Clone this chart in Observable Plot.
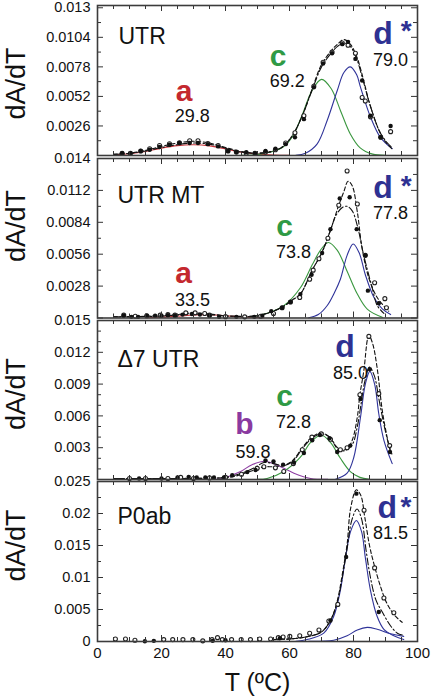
<!DOCTYPE html>
<html><head><meta charset="utf-8">
<script src="https://cdn.jsdelivr.net/npm/d3@7"></script>
<script src="https://cdn.jsdelivr.net/npm/@observablehq/plot@0.6"></script>
<style>
body{margin:0;background:#fff;}
#chart{position:relative;width:432px;height:699px;overflow:hidden;background:#fff;font-family:"Liberation Sans",Arial,sans-serif;}
#chart svg{position:absolute;left:0;overflow:visible;background:transparent;}
</style></head><body><div id="chart"></div>
<script>
// ---------- DATA (T in °C, dA/dT) ----------
const xTicks = [0, 20, 40, 60, 80, 100];
const panelNames = ["UTR", "UTR MT", "\u03947 UTR", "P0ab"];
const yTicks1 = [0.0026, 0.0052, 0.0078, 0.0104, 0.013];
const yTicks2 = [0.0028, 0.0056, 0.0084, 0.0112, 0.014];
const yTicks3 = [0.003, 0.006, 0.009, 0.012, 0.015];
const yTicks4 = [0, 0.005, 0.01, 0.015, 0.02, 0.025];

// Panel 1 : UTR
const p1Filled = [[7.7,0.0002],[10.3,0.0002],[13.5,0.0004],[16.3,0.0005],[19.4,0.00075],[22.5,0.00095],[25.6,0.0011],[28.8,0.0011],[31.4,0.0011],[34.5,0.001],[37.7,0.0008],[40.8,0.0004],[43.4,0.0003],[46.5,0.0003],[49.2,0.0002],[52.5,0.0004],[55.6,0.0006],[58.8,0.001],[61.7,0.0016],[64.5,0.0032],[67.6,0.006],[70.5,0.0081],[73.3,0.009],[76.5,0.0098],[78.3,0.01],[80.6,0.0085],[82.7,0.0066],[85.3,0.0035],[88.5,0.0016],[91.6,0.0026]];
const p1Open = [[7.7,0.0002],[10.3,0.0002],[13.5,0.0004],[16.3,0.0006],[19.4,0.00088],[22.5,0.00103],[25.6,0.00112],[28.8,0.0013],[31.4,0.0013],[34.5,0.00105],[37.7,0.00088],[40.8,0.0004],[43.4,0.0003],[46.5,0.0002],[49.2,0.0002],[52.5,0.0003],[55.6,0.0005],[58.8,0.0011],[61.7,0.002],[64.5,0.0035],[67.6,0.0061],[70.5,0.0082],[73.3,0.0091],[76.5,0.0099],[78.3,0.0097],[80.6,0.009],[82.7,0.0051],[83.7,0.0048],[85.3,0.0034],[88.5,0.0016],[91.6,0.0021]];
const p1Dash = [[5,0.0001],[10,0.0002],[15,0.00045],[20,0.0008],[25,0.0011],[30,0.00125],[35,0.0011],[40,0.0007],[45,0.00035],[50,0.0002],[55,0.0004],[58,0.0008],[61,0.0018],[64,0.0035],[67,0.0058],[70,0.008],[73,0.0092],[75,0.0098],[77,0.0102],[79,0.0098],[81,0.0087],[83,0.0068],[85,0.0046],[88,0.0022],[90,0.0012],[92,0.0006]];
const p1DashDot = [[5,0.0001],[10,0.00018],[15,0.0004],[20,0.0007],[25,0.00095],[30,0.0011],[35,0.001],[40,0.00065],[45,0.0003],[50,0.0002],[55,0.0004],[58,0.0008],[61,0.0018],[64,0.0035],[67,0.0057],[70,0.0078],[73,0.009],[75,0.0096],[77,0.0099],[79,0.0096],[81,0.0085],[83,0.0066],[85,0.0046],[88,0.0022],[90,0.0013],[92,0.0007]];
const p1CompA = [[5,0.00005],[10,0.00015],[15,0.00035],[20,0.00065],[25,0.00087],[30,0.00094],[35,0.00085],[40,0.00058],[45,0.0003],[50,0.00012],[55,0.00004],[60,0.00001]];
const p1CompC = [[45,0.00002],[50,0.00008],[54,0.0003],[58,0.00075],[61,0.0017],[64,0.0036],[67,0.0057],[70,0.0067],[73,0.0059],[76,0.0039],[79,0.0019],[82,0.0007],[86,0.00012],[90,0.00002]];
const p1CompD = [[62,0.00002],[65,0.0002],[68.6,0.001],[71.8,0.0031],[74.9,0.0057],[77,0.0073],[79,0.0078],[81,0.0071],[82.2,0.006],[85.3,0.0034],[88.4,0.0016],[92.1,0.0006]];

// Panel 2 : UTR MT
const p2Filled = [[8.2,0.0002],[10.6,0.0001],[12.7,0.0001],[15.4,0.0002],[18,0.0002],[20,0.0002],[22,0.00025],[24.2,0.0002],[26.6,0.0003],[29.5,0.00035],[32,0.0003],[35,0.0002],[38,0.0001],[43.4,0.0001],[49,0.0001],[51.5,0.0002],[54.3,0.0006],[57.7,0.0009],[60.3,0.0014],[63.4,0.0021],[66.9,0.0038],[70.2,0.0057],[72.8,0.0078],[75.7,0.0105],[78.8,0.0106],[81,0.0078],[83.7,0.0055],[84.5,0.0024],[87.9,0.0013]];
const p2Open = [[8.2,0.00025],[11.8,0.00015],[15.4,0.0002],[19.6,0.00025],[22,0.0003],[24.2,0.00025],[27.6,0.00045],[30.5,0.00045],[33.5,0.0004],[35,0.00025],[40,0.00012],[46,0.0001],[51,0.00015],[55,0.0004],[57.7,0.0009],[60.3,0.0014],[63.2,0.0018],[66.3,0.0034],[67.4,0.0042],[69.2,0.0052],[72,0.007],[75.4,0.0099],[78,0.0129],[81.2,0.01],[83.7,0.0055],[86.6,0.0031],[89.8,0.0017],[90.3,0.0009]];
const p2Dash = [[5,0.0001],[10,0.00012],[15,0.00015],[20,0.0002],[25,0.0003],[30,0.00045],[35,0.00035],[40,0.0002],[45,0.00015],[50,0.0002],[54,0.0005],[58,0.001],[61,0.0016],[63.4,0.0021],[67.1,0.0042],[70.2,0.0058],[72.8,0.0077],[75.4,0.0099],[77,0.0111],[78.3,0.012],[79.6,0.0116],[81.2,0.0093],[82.7,0.0061],[84.8,0.0035],[87.4,0.0018],[91,0.0006]];
const p2DashDot = [[5,0.0001],[10,0.0001],[15,0.00013],[20,0.00017],[25,0.00025],[30,0.00035],[35,0.0003],[40,0.00018],[45,0.00013],[50,0.0002],[54,0.0005],[58,0.001],[61,0.0016],[63.4,0.0021],[67.1,0.0042],[70.2,0.0058],[72.8,0.0077],[74.5,0.009],[76.5,0.0097],[78,0.0098],[79.6,0.0094],[81.2,0.0081],[83.2,0.0055],[85.8,0.0027],[87.4,0.0011],[89.5,0.0004]];
const p2CompA = [[15,0.00002],[20,0.00006],[25,0.00015],[30,0.00026],[33.5,0.0003],[37,0.00026],[42,0.00015],[47,0.00006],[52,0.00002]];
const p2CompC = [[48,0.0001],[50,0.0002],[54,0.0005],[58.2,0.00107],[63.4,0.00265],[67.1,0.00467],[69.7,0.00596],[72.1,0.00663],[74.9,0.00596],[78,0.0041],[81.2,0.0021],[84.3,0.00078],[89,0.00006]];
const p2CompD = [[66,0.00002],[69,0.0003],[71.8,0.0011],[74,0.0022],[75.9,0.0034],[78,0.0055],[79.9,0.0065],[81.8,0.0057],[83.7,0.0038],[86.4,0.0018],[89,0.0008],[91.6,0.0003]];

// Panel 3 : Δ7 UTR
const p3Filled = [[13,0.0001],[20,0.0001],[25,0.0002],[28.5,0.00025],[31,0.0002],[33.7,0.0002],[36.4,0.0002],[39.5,0.0002],[42.1,0.0004],[46.8,0.0007],[49.4,0.0009],[52.5,0.0018],[55,0.0017],[58,0.0014],[61.4,0.0016],[64.5,0.0025],[67.1,0.0037],[69.5,0.0042],[72.5,0.0039],[74.9,0.0026],[79,0.0032],[82.2,0.0076],[85.1,0.0104],[88.2,0.0056],[91.4,0.0026]];
const p3Open = [[10,0.0001],[15,0.0001],[22,0.0001],[26,0.0002],[30,0.0001],[35,0.00015],[40,0.0002],[45,0.0005],[49.9,0.00105],[52,0.0012],[55.6,0.0011],[58.2,0.00075],[61.2,0.0015],[64,0.0028],[67,0.004],[69.9,0.0043],[72.8,0.0038],[75.9,0.0028],[78,0.003],[82,0.008],[84.8,0.0135],[87.9,0.0081],[91.3,0.0032]];
const p3Dash = [[5,0.0001],[15,0.0001],[25,0.0001],[35,0.00012],[40,0.00018],[43,0.0003],[46,0.0006],[49,0.0009],[52,0.0012],[55,0.0012],[58,0.0013],[61,0.0018],[64,0.003],[67,0.004],[70,0.0044],[72.5,0.004],[75.4,0.0028],[78,0.0029],[79.6,0.0037],[81.2,0.0059],[82,0.008],[83.2,0.0102],[84.8,0.0136],[86,0.0128],[87.4,0.0105],[89,0.0065],[90.5,0.004],[91.4,0.0028]];
const p3DashDot = [[5,0.0001],[15,0.0001],[25,0.0001],[35,0.00012],[40,0.0002],[43,0.0004],[46,0.0007],[49,0.0011],[52,0.0016],[55,0.0015],[58,0.0013],[61,0.0017],[64,0.0029],[67,0.0039],[70,0.0043],[72.5,0.004],[75,0.003],[77,0.0027],[79.6,0.0033],[81.2,0.005],[82.2,0.0068],[83.5,0.0092],[85,0.0106],[86.5,0.0098],[88,0.0075],[89.5,0.0052],[91,0.0033],[92,0.0024]];
const p3CompB = [[37,0.00002],[39,0.0001],[44.7,0.00075],[48.3,0.0014],[52.3,0.00172],[57.2,0.0012],[61.4,0.0006],[66.6,0.0001],[72,0.00001]];
const p3CompC = [[50,0.00002],[53,0.0001],[58.2,0.00075],[63.4,0.0021],[66.6,0.0035],[69.9,0.0042],[72.8,0.0035],[75.9,0.002],[79,0.00075],[82,0.0002],[85,0.00002]];
const p3CompD = [[74.4,0.00002],[78,0.0006],[80.1,0.0021],[82.2,0.0059],[83.7,0.009],[85.1,0.0102],[86.6,0.009],[87.9,0.0062],[89.5,0.0037],[92.1,0.0015]];

// Panel 4 : P0ab
const p4Filled = [[14.8,0.00005],[17.6,0.0001],[36,0.0001],[40,0.0002],[57,0.0005],[72.8,0.0033],[77.7,0.0132],[80.9,0.0231],[87.9,0.0046]];
const p4Open = [[5.6,0.0004],[8.75,0.0004],[11.7,0.0002],[20.7,0.0003],[23.5,0.0003],[26.7,0.0003],[29.8,0.0003],[32.9,0.0001],[35.8,0.0003],[37.5,0.0006],[39,0.0003],[41.9,0.0003],[44.9,0.0003],[47.8,0.0003],[50.7,0.0004],[54.1,0.0004],[56.5,0.0006],[58,0.0007],[60.1,0.0008],[63.2,0.0009],[66.3,0.0013],[69.2,0.0018],[72.3,0.0032],[75.1,0.0058],[83.3,0.0205],[86.6,0.0115],[89.5,0.0068],[92.6,0.0045]];
const p4Dash = [[55,0.0003],[60,0.0004],[65,0.0007],[70,0.0015],[73,0.0035],[75,0.0065],[76.5,0.0105],[78,0.0152],[79.1,0.0208],[80.9,0.0237],[82.3,0.0228],[83.5,0.0195],[85,0.015],[86.4,0.0121],[88.5,0.0085],[90.5,0.0059],[93,0.004],[95.2,0.003]];
const p4DashDot = [[55,0.0003],[60,0.0004],[65,0.0007],[70,0.0015],[73,0.0035],[75,0.0063],[76.5,0.01],[78,0.0145],[79.5,0.019],[81.1,0.0207],[82.5,0.0192],[84,0.014],[85.3,0.01],[87,0.0065],[89,0.0046],[91.5,0.0025],[93.7,0.0013],[95.5,0.001]];
const p4CompD1 = [[62,0.00002],[65.5,0.0003],[70.7,0.0013],[73.8,0.0039],[75.9,0.008],[77.5,0.0131],[79.1,0.0172],[80.9,0.0189],[82.5,0.0172],[83.7,0.0131],[85.3,0.008],[87.4,0.0039],[89.5,0.0019],[92.6,0.0009],[95.7,0.0003]];
const p4CompD2 = [[66,0.00002],[73.8,0.0002],[78,0.0009],[81.2,0.0018],[84.3,0.0022],[87.4,0.0019],[91.6,0.0012],[95.7,0.0008]];

// ---------- STYLE / LAYOUT ----------
const RED = "#c4282e", GREEN = "#2f9a45", BLUE = "#2e3192", PURPLE = "#8a3aa0";
const LRED = "#c8343a", LGREEN = "#3a973f", LBLUE = "#2f3399", LPURPLE = "#8e3fa3";
const FONT = "'Liberation Sans', Arial, Helvetica, sans-serif";
const W = 432, ML = 97, MR = 15, PW = W - ML - MR;
const fmt = d => String(+d.toFixed(6));

const panels = [
  {top: 5, bottom: 155, ymax: 0.0132, ticks: yTicks1, minor: 0.0013,
   filled: p1Filled, open: p1Open, dash: p1Dash, dashDot: p1DashDot,
   comps: [[p1CompA, LRED], [p1CompC, LGREEN], [p1CompD, LBLUE]], titleY: 83,
   labels: [
     {t: panelNames[0], x: 118, y: 35.9, s: 23, a: "start"},
     {t: "a", x: 183.5, y: 90.4, s: 30, w: "bold", c: RED},
     {t: "29.8", x: 191.7, y: 115.9, s: 18},
     {t: "c", x: 277.5, y: 55.4, s: 30, w: "bold", c: GREEN},
     {t: "69.2", x: 286.7, y: 80.9, s: 18},
     {t: "d", x: 382.5, y: 32.8, s: 32, w: "bold", c: BLUE},
     {t: "*", x: 405.8, y: 31, s: 28, w: "bold", c: BLUE},
     {t: "79.0", x: 390, y: 60.2, s: 18}]},
  {top: 157.5, bottom: 317, ymax: 0.014, ticks: yTicks2, minor: 0.0014,
   filled: p2Filled, open: p2Open, dash: p2Dash, dashDot: p2DashDot,
   comps: [[p2CompA, LRED], [p2CompC, LGREEN], [p2CompD, LBLUE]], titleY: 225,
   labels: [
     {t: panelNames[1], x: 117, y: 194.3, s: 23, a: "start"},
     {t: "a", x: 183, y: 272, s: 30, w: "bold", c: RED},
     {t: "33.5", x: 192, y: 299.2, s: 18},
     {t: "c", x: 284, y: 225.4, s: 30, w: "bold", c: GREEN},
     {t: "73.8", x: 293, y: 251.5, s: 18},
     {t: "d", x: 382.5, y: 186.4, s: 32, w: "bold", c: BLUE},
     {t: "*", x: 405.8, y: 185.4, s: 28, w: "bold", c: BLUE},
     {t: "77.8", x: 390, y: 212.5, s: 18}]},
  {top: 319.5, bottom: 478.5, ymax: 0.015, ticks: yTicks3, minor: 0.001,
   filled: p3Filled, open: p3Open, dash: p3Dash, dashDot: p3DashDot,
   comps: [[p3CompB, LPURPLE], [p3CompC, LGREEN], [p3CompD, LBLUE]], titleY: 393,
   labels: [
     {t: panelNames[2], x: 117, y: 358.6, s: 23, a: "start"},
     {t: "b", x: 244, y: 423.1, s: 30, w: "bold", c: PURPLE},
     {t: "59.8", x: 252.5, y: 450.9, s: 18},
     {t: "c", x: 284, y: 395.4, s: 30, w: "bold", c: GREEN},
     {t: "72.8", x: 293, y: 421.5, s: 18},
     {t: "d", x: 344.5, y: 345.8, s: 32, w: "bold", c: BLUE},
     {t: "85.0", x: 350, y: 372.5, s: 18}]},
  {top: 481, bottom: 641, ymax: 0.025, ticks: yTicks4, minor: 0.0025,
   filled: p4Filled, open: p4Open, dash: p4Dash, dashDot: p4DashDot,
   comps: [[p4CompD1, LBLUE], [p4CompD2, LBLUE]], titleY: 545, last: true,
   labels: [
     {t: panelNames[3], x: 117, y: 516, s: 23, a: "start"},
     {t: "d", x: 386.7, y: 507.5, s: 32, w: "bold", c: BLUE},
     {t: "*", x: 405.5, y: 506.4, s: 28, w: "bold", c: BLUE},
     {t: "81.5", x: 390, y: 532.5, s: 18}]}
];

const chart = document.getElementById("chart");
const X = d => d[0], Y = d => d[1];

for (const p of panels) {
  const H = p.bottom - p.top;
  const MB = p.last ? 58 : 0;
  const yMaj = Array.from(new Set([0, ...p.ticks]));
  const yMin = d3.range(0, p.ymax + 1e-9, p.minor).filter(v => !yMaj.some(m => Math.abs(m - v) < 1e-9));
  const xMaj = xTicks;
  const xMin = d3.range(0, 101, 5).filter(v => !xMaj.includes(v));
  const marks = [];
  for (const [data, color] of p.comps)
    marks.push(Plot.line(data, {x: X, y: Y, stroke: color, strokeWidth: 1.1, curve: "catmull-rom"}));
  marks.push(Plot.line(p.dashDot, {x: X, y: Y, stroke: "#111", strokeWidth: 1.1, strokeDasharray: "7,2.5,1.5,2.5", curve: "catmull-rom"}));
  marks.push(Plot.line(p.dash, {x: X, y: Y, stroke: "#111", strokeWidth: 1.1, strokeDasharray: "4,2.5", curve: "catmull-rom"}));
  marks.push(Plot.dot(p.open, {x: X, y: Y, r: 2, fill: "white", stroke: "#222", strokeWidth: 1.1}));
  marks.push(Plot.dot(p.filled, {x: X, y: Y, r: 2.2, fill: "#111", stroke: "none"}));
  // inward ticks
  const tk = "#333";
  marks.push(Plot.ruleX(xMaj, {x: d => d, insetTop: H - 6, stroke: tk, strokeWidth: 1}));
  marks.push(Plot.ruleX(xMin, {x: d => d, insetTop: H - 4, stroke: tk, strokeWidth: 1}));
  marks.push(Plot.ruleX(xMaj, {x: d => d, insetBottom: H - 6, stroke: tk, strokeWidth: 1}));
  marks.push(Plot.ruleX(xMin, {x: d => d, insetBottom: H - 4, stroke: tk, strokeWidth: 1}));
  marks.push(Plot.ruleY(yMaj, {y: d => d, insetRight: PW - 6, stroke: tk, strokeWidth: 1}));
  marks.push(Plot.ruleY(yMin, {y: d => d, insetRight: PW - 4, stroke: tk, strokeWidth: 1}));
  marks.push(Plot.ruleY(yMaj, {y: d => d, insetLeft: PW - 6, stroke: tk, strokeWidth: 1}));
  marks.push(Plot.ruleY(yMin, {y: d => d, insetLeft: PW - 4, stroke: tk, strokeWidth: 1}));
  marks.push(Plot.frame({stroke: "#3c3c3c", strokeWidth: 1.6}));
  marks.push(Plot.axisY(p.ticks, {anchor: "left", tickSize: 0, tickPadding: 7, tickFormat: fmt, fontSize: 14.5, label: null, fill: "#111"}));
  if (p.last) {
    marks.push(Plot.axisX(xTicks, {anchor: "bottom", tickSize: 0, tickPadding: 6, fontSize: 15, label: null, fill: "#111"}));
    marks.push(Plot.text(["T (\u00baC)"], {frameAnchor: "bottom", dy: 41, fontSize: 25, lineAnchor: "middle", fill: "#111"}));
  }
  // y title
  marks.push(Plot.text(["dA/dT"], {frameAnchor: "top-left", dx: 16 - ML, dy: p.titleY - p.top, rotate: -90, fontSize: 27, textAnchor: "middle", lineAnchor: "middle", fill: "#111"}));
  // annotations
  for (const l of p.labels) {
    marks.push(Plot.text([l.t], {frameAnchor: "top-left", dx: l.x - ML, dy: l.y - p.top,
      fontSize: l.s, fontWeight: l.w || "normal", fill: l.c || "#111",
      textAnchor: l.a || "middle", lineAnchor: "middle"}));
  }
  const svg = Plot.plot({
    width: W, height: H + MB,
    marginLeft: ML, marginRight: MR, marginTop: 0, marginBottom: MB,
    x: {domain: [0, 100], axis: null},
    y: {domain: [0, p.ymax], axis: null},
    style: {overflow: "visible", background: "transparent", fontFamily: FONT, color: "#111"},
    marks
  });
  svg.style.position = "absolute";
  svg.style.top = p.top + "px";
  svg.style.left = "0px";
  chart.appendChild(svg);
}
</script></body></html>
